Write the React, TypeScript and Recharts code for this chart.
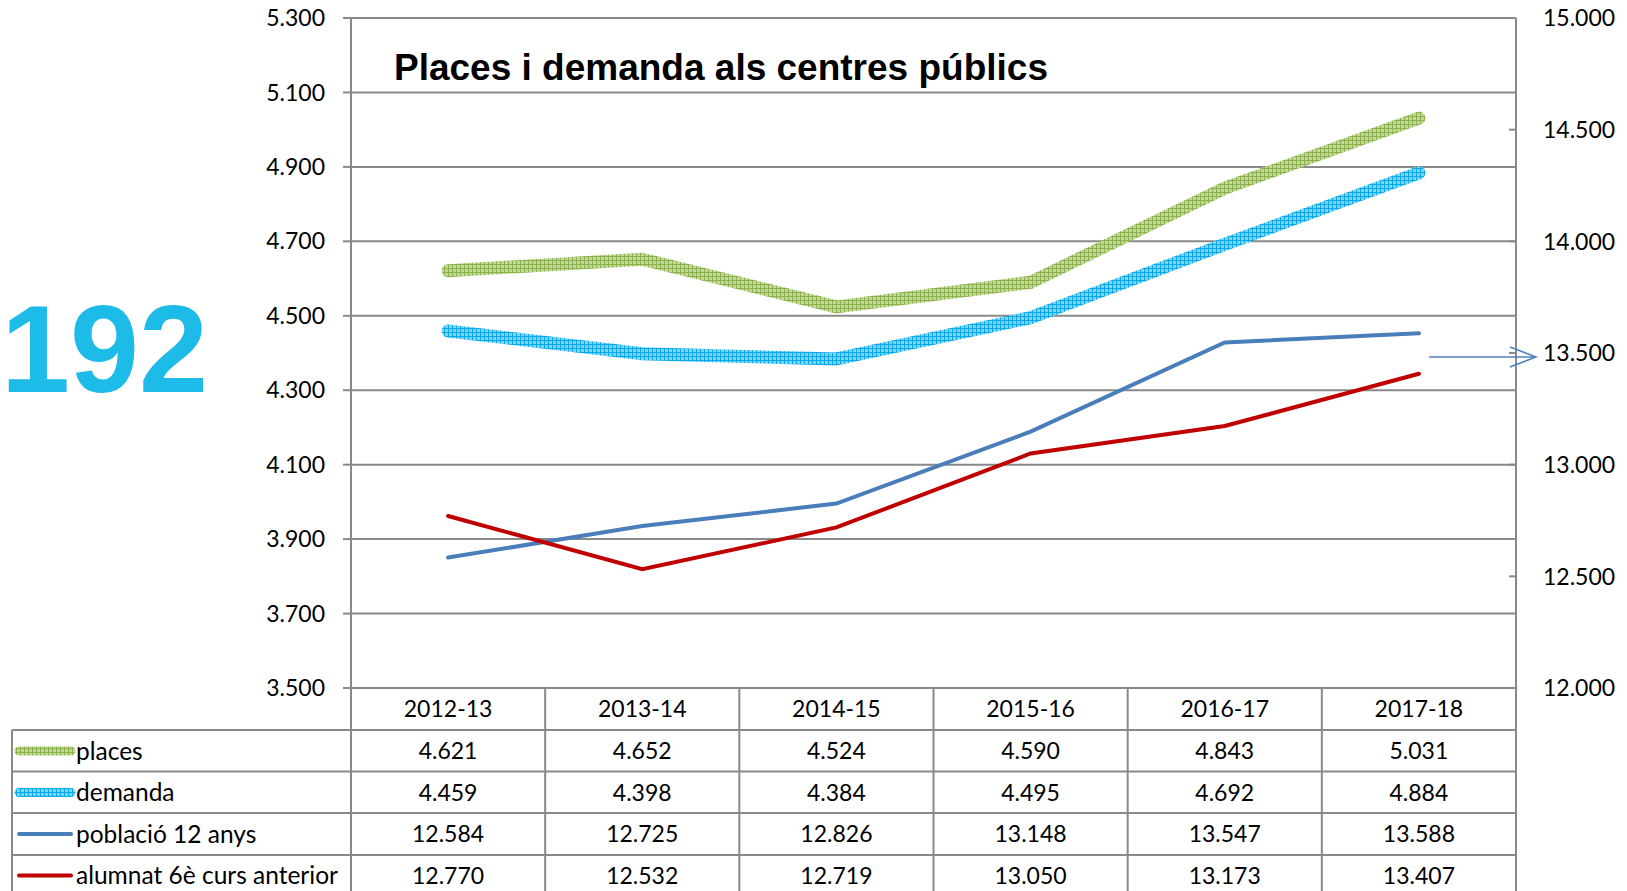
import React from "react";
import { ComposedChart, Line, XAxis, YAxis, CartesianGrid } from "recharts";

const years = ["2012-13", "2013-14", "2014-15", "2015-16", "2016-17", "2017-18"];
const places = [4621, 4652, 4524, 4590, 4843, 5031];
const demanda = [4459, 4398, 4384, 4495, 4692, 4884];
const poblacio = [12584, 12725, 12826, 13148, 13547, 13588];
const alumnat = [12770, 12532, 12719, 13050, 13173, 13407];

const leftTicks = [3500, 3700, 3900, 4100, 4300, 4500, 4700, 4900, 5100, 5300];
const rightTicks = [12000, 12500, 13000, 13500, 14000, 14500, 15000];

const title = "Places i demanda als centres públics";
const pageNumber = "192";

const series = [
  { key: "places", label: "places", values: places, axis: "left" },
  { key: "demanda", label: "demanda", values: demanda, axis: "left" },
  { key: "poblacio", label: "població 12 anys", values: poblacio, axis: "right" },
  { key: "alumnat", label: "alumnat 6è curs anterior", values: alumnat, axis: "right" },
];

const data = years.map((year, i) => ({
  year,
  places: places[i],
  demanda: demanda[i],
  poblacio: poblacio[i],
  alumnat: alumnat[i],
}));

// layout
const W = 1627;
const H = 891;
const PLOT_LEFT = 351;
const PLOT_RIGHT = 1516;
const PLOT_TOP = 18;
const PLOT_BOTTOM = 688;
const LEFT_AXIS_W = 80;
const RIGHT_AXIS_W = 111;
const BAND = (PLOT_RIGHT - PLOT_LEFT) / years.length;
const ROW_LINES = [730, 771.5, 813, 855];
const ROW_CENTERS = [709, 751, 792.5, 834, 875.5];
const GRID = "#898989";
const FONT = "Lato, 'Open Sans', sans-serif";

const fmt = (n: number) => String(n).replace(/\B(?=(\d{3})+(?!\d))/g, ".");

const TableTick = (props: any) => {
  const { x, payload, index } = props;
  const i = payload?.index ?? index;
  const isLast = i === years.length - 1;
  return (
    <g>
      <line x1={x - BAND / 2} x2={x - BAND / 2} y1={PLOT_BOTTOM} y2={H} stroke={GRID} strokeWidth={2} />
      {isLast && (
        <line x1={x + BAND / 2} x2={x + BAND / 2} y1={PLOT_BOTTOM} y2={H} stroke={GRID} strokeWidth={2} />
      )}
      <text x={x} y={ROW_CENTERS[0]} dy="0.36em" textAnchor="middle" fontSize={23} fontFamily={FONT} fill="#000">
        {payload.value}
      </text>
      {series.map((s, r) => (
        <text
          key={s.key}
          x={x}
          y={ROW_CENTERS[r + 1]}
          dy="0.36em"
          textAnchor="middle"
          fontSize={23}
          fontFamily={FONT}
          fill="#000"
        >
          {fmt(s.values[i])}
        </text>
      ))}
    </g>
  );
};

const RightTick = (props: any) => {
  const { y, payload } = props;
  return (
    <g>
      <line x1={PLOT_RIGHT - 7} x2={PLOT_RIGHT} y1={y} y2={y} stroke={GRID} strokeWidth={2} />
      <text x={PLOT_RIGHT + 27} y={y} dy="0.36em" textAnchor="start" fontSize={23} fontFamily={FONT} fill="#000">
        {fmt(payload.value)}
      </text>
    </g>
  );
};

const Swatch = ({ y, kind }: { y: number; kind: string }) => {
  if (kind === "places")
    return <line x1={19} x2={71} y1={y} y2={y} stroke="url(#greenTex)" strokeWidth={9} strokeLinecap="round" />;
  if (kind === "demanda")
    return <line x1={19} x2={71} y1={y} y2={y} stroke="url(#blueTex)" strokeWidth={9} strokeLinecap="round" />;
  if (kind === "poblacio")
    return <line x1={19} x2={71} y1={y} y2={y} stroke="#4A7EBB" strokeWidth={4} strokeLinecap="round" />;
  return <line x1={19} x2={71} y1={y} y2={y} stroke="#C00000" strokeWidth={4} strokeLinecap="round" />;
};

const Patterns = () => (
  <defs>
    <pattern id="greenTex" width="4" height="4" patternUnits="userSpaceOnUse">
      <rect width="4" height="4" fill="#C2D79A" />
      <path d="M0 0.5H4M0.5 0V4" stroke="#8DB24D" strokeWidth="1" />
    </pattern>
    <pattern id="blueTex" width="4" height="4" patternUnits="userSpaceOnUse">
      <rect width="4" height="4" fill="#7FD2F4" />
      <path d="M0 0.5H4M0.5 0V4" stroke="#08A9EA" strokeWidth="1" />
    </pattern>
  </defs>
);

export default function App() {
  return (
    <div style={{ position: "absolute", left: 0, top: 0, width: W, height: H, background: "#fff", fontFamily: FONT }}>
      <ComposedChart
        width={W}
        height={H}
        data={data}
        margin={{ top: PLOT_TOP, right: W - PLOT_RIGHT - RIGHT_AXIS_W, bottom: 0, left: PLOT_LEFT - LEFT_AXIS_W }}
      >
        <Patterns />
        <CartesianGrid yAxisId="left" vertical={false} stroke={GRID} strokeWidth={2} />
        <XAxis
          dataKey="year"
          scale="band"
          height={H - PLOT_BOTTOM}
          interval={0}
          axisLine={{ stroke: GRID, strokeWidth: 2 }}
          tickLine={false}
          tick={<TableTick />}
        />
        <YAxis
          yAxisId="left"
          width={LEFT_AXIS_W}
          domain={[3500, 5300]}
          ticks={leftTicks}
          tickFormatter={fmt}
          axisLine={{ stroke: GRID, strokeWidth: 2 }}
          tickLine={{ stroke: GRID, strokeWidth: 2 }}
          tickSize={8}
          tickMargin={18}
          tick={{ fill: "#000", fontSize: 23, fontFamily: FONT }}
        />
        <YAxis
          yAxisId="right"
          orientation="right"
          width={RIGHT_AXIS_W}
          domain={[12000, 15000]}
          ticks={rightTicks}
          axisLine={{ stroke: GRID, strokeWidth: 2 }}
          tickLine={false}
          tick={<RightTick />}
        />
        <Line
          yAxisId="left"
          dataKey="places"
          type="linear"
          stroke="url(#greenTex)"
          strokeWidth={13}
          strokeLinecap="round"
          strokeLinejoin="round"
          dot={false}
          activeDot={false}
          isAnimationActive={false}
        />
        <Line
          yAxisId="left"
          dataKey="demanda"
          type="linear"
          stroke="url(#blueTex)"
          strokeWidth={13}
          strokeLinecap="round"
          strokeLinejoin="round"
          dot={false}
          activeDot={false}
          isAnimationActive={false}
        />
        <Line
          yAxisId="right"
          dataKey="poblacio"
          type="linear"
          stroke="#4A7EBB"
          strokeWidth={4}
          strokeLinecap="round"
          dot={false}
          activeDot={false}
          isAnimationActive={false}
        />
        <Line
          yAxisId="right"
          dataKey="alumnat"
          type="linear"
          stroke="#C00000"
          strokeWidth={4}
          strokeLinecap="round"
          dot={false}
          activeDot={false}
          isAnimationActive={false}
        />
      </ComposedChart>
      <svg width={W} height={H} style={{ position: "absolute", left: 0, top: 0, pointerEvents: "none" }}>
        <Patterns />
        <text x={394} y={80} fontSize={37} fontWeight="bold" fontFamily="'Liberation Sans', Arial, sans-serif" fill="#000">
          {title}
        </text>
        <text x={1} y={392} fontSize={124} fontWeight="bold" fontFamily="'Liberation Sans', Arial, sans-serif" fill="#1DBBE8">
          {pageNumber}
        </text>
        {ROW_LINES.map((y) => (
          <line key={y} x1={12} x2={PLOT_RIGHT} y1={y} y2={y} stroke={GRID} strokeWidth={2} />
        ))}
        <line x1={12} x2={12} y1={ROW_LINES[0]} y2={H} stroke={GRID} strokeWidth={2} />
        {series.map((s, r) => (
          <g key={s.key}>
            <Swatch y={ROW_CENTERS[r + 1]} kind={s.key} />
            <text x={76} y={ROW_CENTERS[r + 1]} dy="0.36em" fontSize={24.5} fontFamily={FONT} fill="#000">
              {s.label}
            </text>
          </g>
        ))}
        <line x1={1429} x2={1536} y1={357} y2={357} stroke="#4F81BD" strokeWidth={1.5} />
        <polyline points="1510,347 1536,357 1510,367" fill="none" stroke="#4F81BD" strokeWidth={1.5} />
      </svg>
    </div>
  );
}
